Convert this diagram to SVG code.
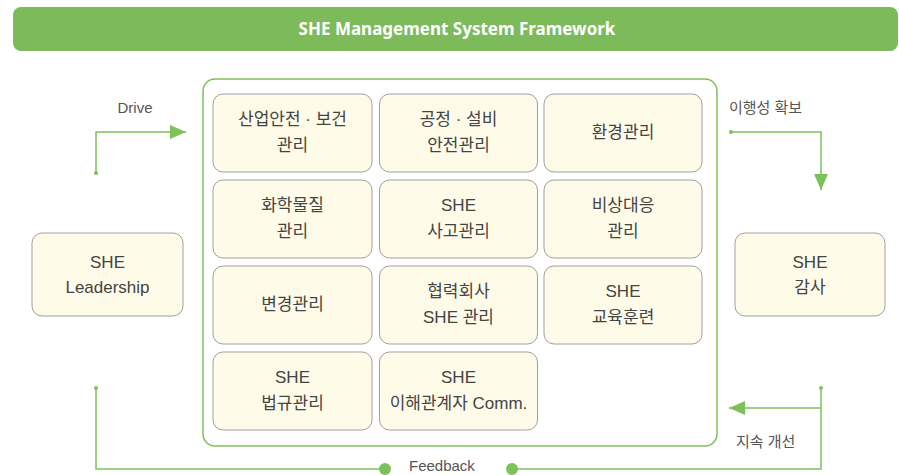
<svg xmlns="http://www.w3.org/2000/svg" width="899" height="475" viewBox="0 0 899 475">
<defs>
<style>
.box{fill:#fffbe9;stroke:#a0a0a0;stroke-width:1}
.t{font-family:"Liberation Sans","Noto Sans CJK KR",sans-serif;font-size:17px;fill:#444;text-anchor:middle}
.lbl{font-family:"Liberation Sans","Noto Sans CJK KR",sans-serif;font-size:15px;fill:#555}
.ln{fill:none;stroke:#7dc15a;stroke-width:1.5}
.dot{fill:#7dc15a}
</style>
<marker id="ah" markerWidth="16" markerHeight="14" refX="16" refY="7" orient="auto" markerUnits="userSpaceOnUse">
<path d="M0,0 L16,7 L0,14 Z" fill="#7dc15a"/>
</marker>
</defs>
<rect width="899" height="475" fill="#fff"/>
<g id="header">
<rect x="13" y="7" width="885" height="44" rx="8" fill="#7dbb5a"/>
<text x="457" y="35" font-family="'Noto Sans',sans-serif" font-size="17" font-weight="bold" fill="#fff" text-anchor="middle">SHE Management System Framework</text>
</g>
<g id="container">
<rect x="203" y="79" width="514" height="367" rx="12" fill="#fff" stroke="#7dc15a" stroke-width="1.5"/>
</g>
<g id="connectors">
<path class="ln" d="M96,173 V132 H186" marker-end="url(#ah)"/>
<circle class="dot" cx="96" cy="173" r="2"/>
<path class="ln" d="M731,132 H821 V190" marker-end="url(#ah)"/>
<circle class="dot" cx="731" cy="132" r="2"/>
<path class="ln" d="M96,388 V469 H385"/>
<circle class="dot" cx="96" cy="388" r="2"/>
<circle class="dot" cx="385" cy="469" r="6"/>
<path class="ln" d="M512,469 H821 V388"/>
<circle class="dot" cx="512" cy="469" r="6"/>
<circle class="dot" cx="821" cy="388" r="2"/>
<path class="ln" d="M821,408 H729" marker-end="url(#ah)"/>
<text class="lbl" x="135" y="113" text-anchor="middle">Drive</text>
<text class="lbl" x="729" y="113">이행성 확보</text>
<text class="lbl" x="409" y="471">Feedback</text>
<text class="lbl" x="736" y="447">지속 개선</text>
</g>
<g id="leadership"><rect class="box" x="32" y="233" width="151" height="83" rx="10"/><text class="t" x="107.5" y="268">SHE</text><text class="t" x="107.5" y="293">Leadership</text></g>
<g id="audit"><rect class="box" x="735" y="233" width="150" height="83" rx="10"/><text class="t" x="810" y="268">SHE</text><text class="t" x="810" y="293">감사</text></g>
<g id="n1"><rect class="box" x="213" y="94" width="159" height="78" rx="10"/><text class="t" x="292.5" y="125">산업안전 · 보건</text><text class="t" x="292.5" y="151">관리</text></g>
<g id="n2"><rect class="box" x="379.5" y="94" width="158" height="78" rx="10"/><text class="t" x="458.5" y="125">공정 · 설비</text><text class="t" x="458.5" y="151">안전관리</text></g>
<g id="n3"><rect class="box" x="544" y="94" width="158" height="78" rx="10"/><text class="t" x="623" y="138">환경관리</text></g>
<g id="n4"><rect class="box" x="213" y="180" width="159" height="78" rx="10"/><text class="t" x="292.5" y="211">화학물질</text><text class="t" x="292.5" y="237">관리</text></g>
<g id="n5"><rect class="box" x="379.5" y="180" width="158" height="78" rx="10"/><text class="t" x="458.5" y="211">SHE</text><text class="t" x="458.5" y="237">사고관리</text></g>
<g id="n6"><rect class="box" x="544" y="180" width="158" height="78" rx="10"/><text class="t" x="623" y="211">비상대응</text><text class="t" x="623" y="237">관리</text></g>
<g id="n7"><rect class="box" x="213" y="266" width="159" height="78" rx="10"/><text class="t" x="292.5" y="310">변경관리</text></g>
<g id="n8"><rect class="box" x="379.5" y="266" width="158" height="78" rx="10"/><text class="t" x="458.5" y="297">협력회사</text><text class="t" x="458.5" y="323">SHE 관리</text></g>
<g id="n9"><rect class="box" x="544" y="266" width="158" height="78" rx="10"/><text class="t" x="623" y="297">SHE</text><text class="t" x="623" y="323">교육훈련</text></g>
<g id="n10"><rect class="box" x="213" y="352" width="159" height="78" rx="10"/><text class="t" x="292.5" y="383">SHE</text><text class="t" x="292.5" y="409">법규관리</text></g>
<g id="n11"><rect class="box" x="379.5" y="352" width="158" height="78" rx="10"/><text class="t" x="458.5" y="383">SHE</text><text class="t" x="458.5" y="409">이해관계자 Comm.</text></g>
</svg>
